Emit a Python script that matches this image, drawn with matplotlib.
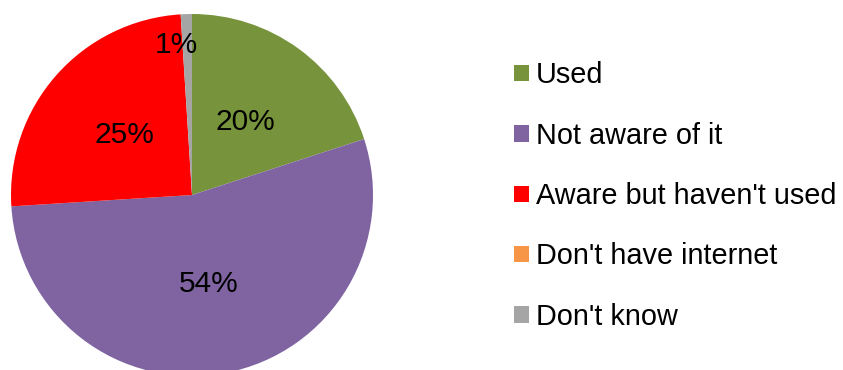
import matplotlib.pyplot as plt
from matplotlib.patches import Patch

plt.rcParams['font.family'] = ['Liberation Sans', 'DejaVu Sans']

# survey answers (percent)
labels = ["Used", "Not aware of it", "Aware but haven't used",
          "Don't have internet", "Don't know"]
shares = [20, 54, 25, 0, 1]
colors = ["#77933C", "#8064A2", "#FF0000", "#F79646", "#A5A5A5"]

W, H = 843, 370
fig = plt.figure(figsize=(W / 100, H / 100), dpi=100)
ax = fig.add_axes([0, 0, 1, 1])

cx, cy, r = 192, H - 195, 181
wedges, texts, autotexts = ax.pie(
    shares, colors=colors, startangle=90, counterclock=False,
    center=(cx, cy), radius=r, frame=True,
    autopct=lambda p: f"{p:.0f}%" if p > 0.5 else "",
    pctdistance=0.5, textprops={'fontsize': 21.5, 'color': 'black'})
ax.set_xlim(0, W)
ax.set_ylim(0, H)
ax.set_aspect('equal')
ax.axis('off')

# the tiny "Don't know" slice gets its label pushed out near the rim
autotexts[4].set_position((cx - 16, cy + 150))

handles = [Patch(facecolor=c, edgecolor='none') for c in colors]
leg = fig.legend(handles, labels, loc='center left',
                 bbox_to_anchor=(488 / W, 1 - 196 / H), frameon=False,
                 fontsize=20.8, handlelength=0.52, handleheight=0.5,
                 handletextpad=0.25, labelspacing=1.12)

fig.savefig("out.png", dpi=100)
